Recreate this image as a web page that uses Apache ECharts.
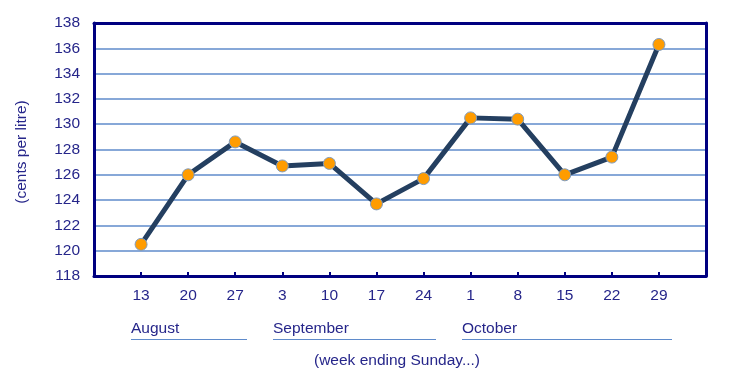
<!DOCTYPE html>
<html>
<head>
<meta charset="utf-8">
<script src="https://cdn.jsdelivr.net/npm/echarts@6/dist/echarts.min.js"></script>
<style>html,body{margin:0;padding:0;background:#fff}#c{width:734px;height:381px}</style>
</head>
<body>
<div id="c"></div>
<script>
const weekLabels = ['', '13', '20', '27', '3', '10', '17', '24', '1', '8', '15', '22', '29', ''];
const prices = [null, 120.5, 126.0, 128.6, 126.7, 126.9, 123.7, 125.7, 130.5, 130.4, 126.0, 127.4, 136.3, null];
const months = ['August', 'September', 'October'];
const yTitle = '(cents per litre)';
const xTitle = '(week ending Sunday...)';

const textColor = '#26268a';
const font = '"Liberation Sans", Arial, sans-serif';
const fs = 15.5;
const chart = echarts.init(document.getElementById('c'));
chart.setOption({
  animation: false,
  grid: { left: 94, right: 28, top: 23, bottom: 105 },
  xAxis: [{
    type: 'category', data: weekLabels, boundaryGap: false,
    axisLine: { lineStyle: { color: '#000080', width: 3 } },
    axisTick: { inside: true, length: 4, lineStyle: { color: '#000080', width: 2 } },
    axisLabel: { color: textColor, fontFamily: font, fontSize: fs, margin: 12 },
    splitLine: { show: false }
  }, {
    type: 'category', data: weekLabels, boundaryGap: false, position: 'top',
    axisLine: { lineStyle: { color: '#000080', width: 3 } },
    axisTick: { show: false }, axisLabel: { show: false }, splitLine: { show: false }
  }],
  yAxis: [{
    type: 'value', min: 118, max: 138, interval: 2,
    axisLine: { show: true, lineStyle: { color: '#000080', width: 3 } },
    axisTick: { show: false },
    axisLabel: { color: textColor, fontFamily: font, fontSize: fs, margin: 14 },
    splitLine: { lineStyle: { color: '#5f8bcb', width: 1.5 } }
  }, {
    type: 'value', min: 118, max: 138, interval: 2, position: 'right',
    axisLine: { show: true, lineStyle: { color: '#000080', width: 3 } },
    axisTick: { show: false }, axisLabel: { show: false }, splitLine: { show: false }
  }],
  series: [{
    type: 'line', data: prices, symbol: 'circle', symbolSize: 12,
    lineStyle: { color: '#243f60', width: 5 },
    itemStyle: { color: '#ff9c00', borderColor: '#7f9bbd', borderWidth: 1 },
    z: 5
  }],
  graphic: [
    { type: 'text', x: 22, y: 152, rotation: Math.PI / 2, style: { text: yTitle, fill: textColor, font: fs + 'px ' + font, textAlign: 'center', textVerticalAlign: 'middle' } },
    { type: 'text', x: 131, y: 329, style: { text: months[0], fill: textColor, font: fs + 'px ' + font, textVerticalAlign: 'middle' } },
    { type: 'line', shape: { x1: 131, y1: 339.5, x2: 247, y2: 339.5 }, style: { stroke: '#5f8bcb', lineWidth: 1.2 } },
    { type: 'text', x: 273, y: 329, style: { text: months[1], fill: textColor, font: fs + 'px ' + font, textVerticalAlign: 'middle' } },
    { type: 'line', shape: { x1: 273, y1: 339.5, x2: 436, y2: 339.5 }, style: { stroke: '#5f8bcb', lineWidth: 1.2 } },
    { type: 'text', x: 462, y: 329, style: { text: months[2], fill: textColor, font: fs + 'px ' + font, textVerticalAlign: 'middle' } },
    { type: 'line', shape: { x1: 462, y1: 339.5, x2: 672, y2: 339.5 }, style: { stroke: '#5f8bcb', lineWidth: 1.2 } },
    { type: 'text', x: 397, y: 361, style: { text: xTitle, fill: textColor, font: fs + 'px ' + font, textAlign: 'center', textVerticalAlign: 'middle' } }
  ]
});
</script>
</body>
</html>
